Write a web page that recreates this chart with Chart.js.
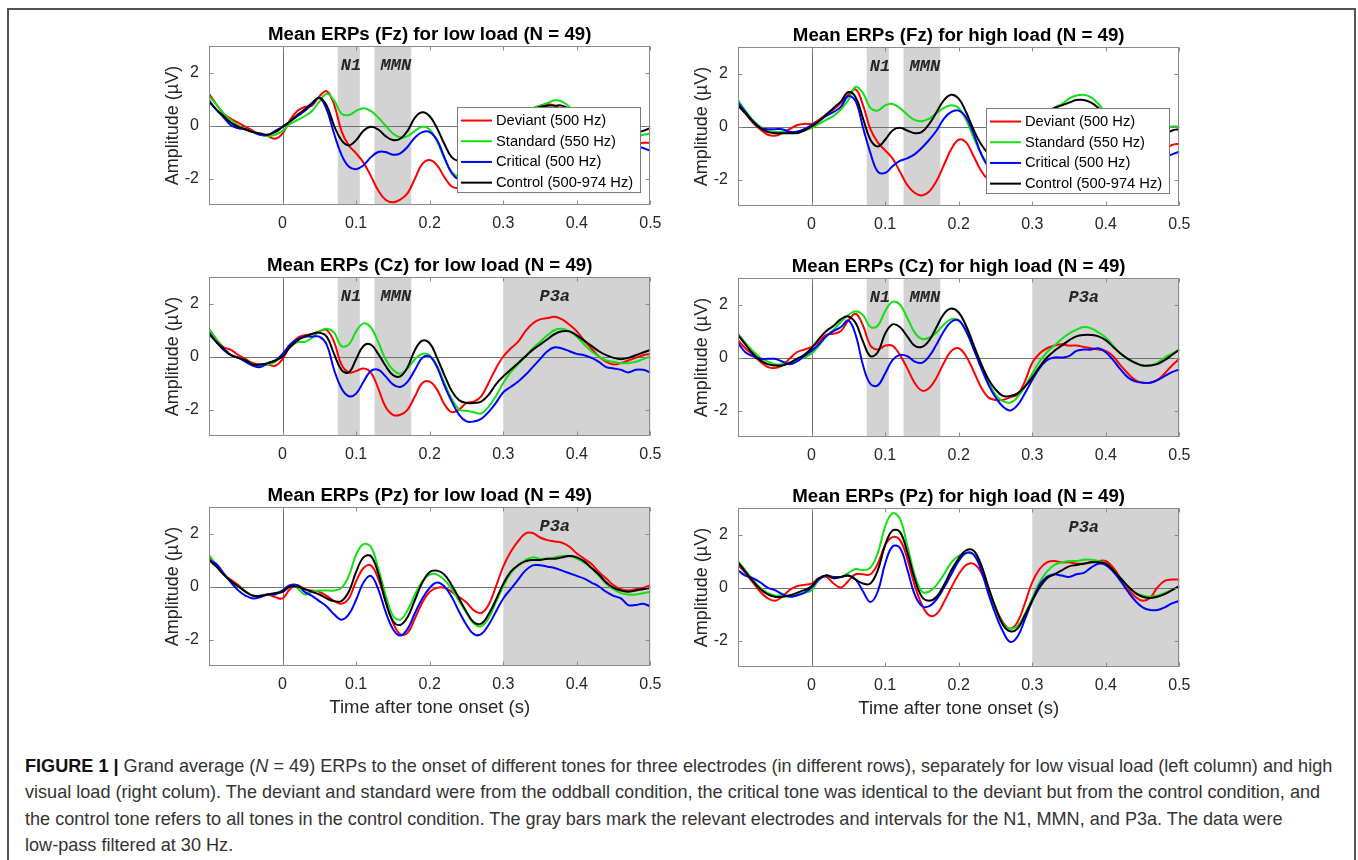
<!DOCTYPE html>
<html><head><meta charset="utf-8">
<script src="https://cdn.jsdelivr.net/npm/chart.js@4.4.1/dist/chart.umd.min.js"></script>
<style>
html,body{margin:0;padding:0;background:#fff;width:1358px;height:860px;overflow:hidden;}
#frame{position:absolute;left:7px;top:8px;width:1349px;height:900px;border:2px solid #555;box-sizing:border-box;}
canvas{position:absolute;}
#caption{position:absolute;left:25px;top:753px;font-family:"Liberation Sans",Arial,sans-serif;font-size:18.1px;line-height:26.3px;color:#333;white-space:nowrap;}
#caption b{color:#111;}
</style></head>
<body>
<div id="frame"></div>
<canvas id="c1" width="520" height="222" style="left:150px;top:18px"></canvas>
<canvas id="c2" width="520" height="222" style="left:679px;top:19px"></canvas>
<canvas id="c3" width="520" height="222" style="left:150px;top:249px"></canvas>
<canvas id="c4" width="520" height="222" style="left:679px;top:250px"></canvas>
<canvas id="c5" width="520" height="245" style="left:150px;top:479px"></canvas>
<canvas id="c6" width="520" height="245" style="left:679px;top:480px"></canvas>
<div id="caption"><b>FIGURE 1 |</b> Grand average (<i>N</i> = 49) ERPs to the onset of different tones for three electrodes (in different rows), separately for low visual load (left column) and high<br>visual load (right colum). The deviant and standard were from the oddball condition, the critical tone was identical to the deviant but from the control condition, and<br>the control tone refers to all tones in the control condition. The gray bars mark the relevant electrodes and intervals for the N1, MMN, and P3a. The data were<br>low-pass filtered at 30 Hz.</div>
<script>
// ---------- data ----------
const timeS = [-0.1,-0.09,-0.08,-0.07,-0.06,-0.05,-0.04,-0.03,-0.02,-0.01,0,
  0.01,0.02,0.03,0.04,0.05,0.06,0.07,0.08,0.09,0.1,
  0.11,0.12,0.13,0.14,0.15,0.16,0.17,0.18,0.19,0.2,
  0.21,0.22,0.23,0.24,0.25,0.26,0.27,0.28,0.29,0.3,
  0.31,0.32,0.33,0.34,0.35,0.36,0.37,0.38,0.39,0.4,
  0.41,0.42,0.43,0.44,0.45,0.46,0.47,0.48,0.49,0.5];
const xTickValues = [0,0.1,0.2,0.3,0.4,0.5];
const yTickValues = [-2,0,2];
const seriesLabels = ['Deviant (500 Hz)','Standard (550 Hz)','Critical (500 Hz)','Control (500-974 Hz)'];
const seriesColors = ['#ff0000','#12e012','#0000ff','#000000'];

// Fz low load
const fzLowDev  = [1.2,0.8,0.45,0.25,0.1,-0.05,-0.2,-0.35,-0.4,-0.5,-0.3, 0.2,0.55,0.7,0.75,1.1,1.3,0.8,-0.2,-0.75,-1.05, -1.4,-1.9,-2.45,-2.8,-2.9,-2.8,-2.55,-2.0,-1.45,-1.3, -1.5,-1.95,-2.3,-2.35,-2.2,-1.9,-1.5,-1.0,-0.6,-0.2, 0.1,0.35,0.5,0.65,0.75,0.8,0.75,0.6,0.35,0.1, -0.15,-0.35,-0.5,-0.6,-0.7,-0.75,-0.75,-0.7,-0.65,-0.65];
const fzLowStd  = [1.1,0.8,0.45,0.2,0.0,-0.15,-0.25,-0.35,-0.4,-0.35,-0.2, 0.05,0.2,0.35,0.55,0.9,1.2,0.95,0.45,0.4,0.55, 0.65,0.55,0.3,0.0,-0.3,-0.45,-0.4,-0.2,-0.05,-0.15, -0.6,-1.25,-1.75,-1.95,-1.9,-1.7,-1.4,-1.0,-0.6,-0.25, 0.05,0.3,0.5,0.65,0.75,0.85,0.95,0.9,0.7,0.4, 0.1,-0.15,-0.3,-0.4,-0.45,-0.5,-0.5,-0.45,-0.35,-0.3];
const fzLowCrit = [0.95,0.6,0.3,0.0,-0.1,-0.15,-0.25,-0.35,-0.35,-0.2,-0.05, 0.15,0.35,0.55,0.8,1.05,0.6,-0.3,-1.1,-1.55,-1.65, -1.5,-1.2,-1.0,-1.0,-1.1,-1.05,-0.8,-0.45,-0.25,-0.25, -0.55,-1.2,-1.8,-2.05,-2.1,-2.0,-1.7,-1.35,-1.0,-0.7, -0.4,-0.15,0.05,0.2,0.3,0.35,0.35,0.25,0.05,-0.2, -0.4,-0.55,-0.65,-0.7,-0.75,-0.8,-0.8,-0.75,-0.85,-0.95];
const fzLowCtrl = [0.9,0.6,0.35,0.1,-0.05,-0.15,-0.25,-0.3,-0.35,-0.25,-0.05, 0.15,0.4,0.6,0.85,1.05,0.75,0.0,-0.55,-0.75,-0.55, -0.2,-0.05,-0.15,-0.4,-0.55,-0.5,-0.2,0.3,0.5,0.35, -0.1,-0.7,-1.2,-1.35,-1.35,-1.2,-0.95,-0.7,-0.4,-0.1, 0.15,0.35,0.5,0.6,0.7,0.75,0.75,0.75,0.6,0.3, 0.05,-0.15,-0.3,-0.4,-0.45,-0.45,-0.4,-0.3,-0.2,-0.1];

// Fz high load
const fzHighDev  = [0.8,0.5,0.15,-0.1,-0.3,-0.35,-0.25,-0.1,0.05,0.1,0.1, 0.25,0.45,0.65,0.9,1.2,1.4,0.8,-0.1,-0.6,-0.9, -1.2,-1.7,-2.2,-2.5,-2.6,-2.45,-2.05,-1.45,-0.85,-0.5, -0.6,-1.1,-1.65,-2.0,-2.1,-2.0,-1.7,-1.3,-0.85,-0.4, 0.0,0.3,0.5,0.6,0.65,0.65,0.6,0.45,0.2,-0.1, -0.4,-0.65,-0.85,-0.95,-1.0,-1.0,-0.95,-0.85,-0.7,-0.65];
const fzHighStd  = [1.0,0.6,0.25,0.0,-0.15,-0.2,-0.2,-0.2,-0.2,-0.15,-0.05, 0.1,0.25,0.4,0.65,1.0,1.5,1.25,0.7,0.6,0.8, 0.85,0.7,0.45,0.25,0.2,0.3,0.5,0.7,0.8,0.7, 0.25,-0.4,-1.0,-1.4,-1.5,-1.35,-1.05,-0.65,-0.25,-0.05, 0.25,0.5,0.7,0.85,1.05,1.17,1.2,1.1,0.85,0.5, 0.2,-0.05,-0.2,-0.3,-0.3,-0.25,-0.2,-0.1,0.0,0.0];
const fzHighCrit = [0.9,0.55,0.2,-0.05,-0.1,-0.1,-0.1,-0.2,-0.2,-0.1,0.05, 0.2,0.4,0.55,0.75,1.15,0.95,-0.05,-1.0,-1.7,-1.75, -1.5,-1.3,-1.2,-1.05,-0.8,-0.5,-0.15,0.3,0.55,0.6, 0.35,-0.25,-1.0,-1.5,-1.65,-1.55,-1.3,-0.95,-0.6,-0.3, 0.0,0.2,0.35,0.45,0.5,0.5,0.45,0.3,0.05,-0.25, -0.55,-0.8,-1.0,-1.1,-1.15,-1.2,-1.2,-1.15,-1.05,-0.95];
const fzHighCtrl = [0.8,0.5,0.2,-0.05,-0.2,-0.25,-0.25,-0.25,-0.25,-0.15,0.0, 0.2,0.45,0.7,0.95,1.3,1.1,0.3,-0.5,-0.75,-0.5, -0.15,-0.05,-0.15,-0.25,-0.2,0.1,0.55,1.0,1.2,1.05, 0.55,-0.1,-0.65,-1.0,-1.1,-1.0,-0.75,-0.45,-0.1,0.2, 0.45,0.6,0.7,0.8,0.9,1.0,1.0,0.9,0.7,0.45, 0.15,-0.1,-0.3,-0.4,-0.45,-0.45,-0.4,-0.3,-0.15,-0.1];

// Cz low load
const czLowDev  = [1.0,0.65,0.35,0.25,0.05,-0.1,-0.25,-0.3,-0.3,-0.35,-0.1, 0.4,0.7,0.8,0.85,0.95,1.0,0.55,-0.3,-0.6,-0.55, -0.45,-0.6,-1.2,-1.9,-2.2,-2.2,-2.0,-1.5,-1.0,-0.95, -1.25,-1.8,-2.1,-2.0,-1.75,-1.7,-1.5,-1.0,-0.45,0.0, 0.3,0.55,0.95,1.25,1.4,1.45,1.5,1.4,1.2,0.95, 0.6,0.3,0.0,-0.2,-0.3,-0.25,-0.15,-0.05,0.05,0.1];
const czLowStd  = [1.05,0.65,0.3,0.05,-0.05,-0.15,-0.3,-0.35,-0.3,-0.2,0.05, 0.35,0.55,0.55,0.7,0.95,1.05,0.9,0.4,0.45,0.95, 1.25,1.1,0.55,-0.1,-0.5,-0.65,-0.45,-0.1,0.1,0.05, -0.35,-1.0,-1.6,-2.0,-2.05,-2.1,-2.15,-1.9,-1.5,-1.0, -0.6,-0.3,0.0,0.3,0.55,0.8,1.0,1.05,0.95,0.75, 0.45,0.2,0.0,-0.15,-0.2,-0.25,-0.25,-0.2,-0.1,0.0];
const czLowCrit = [0.9,0.55,0.25,0.05,-0.05,-0.2,-0.35,-0.4,-0.25,-0.15,0.1, 0.45,0.65,0.75,0.75,0.75,0.45,-0.5,-1.2,-1.5,-1.4, -0.95,-0.55,-0.5,-0.75,-1.05,-1.15,-0.95,-0.5,-0.05,0.0, -0.4,-1.1,-1.7,-2.2,-2.45,-2.45,-2.35,-2.1,-1.75,-1.35, -1.15,-0.95,-0.7,-0.4,-0.1,0.2,0.35,0.3,0.2,0.1, 0.05,-0.05,-0.2,-0.4,-0.45,-0.5,-0.6,-0.5,-0.5,-0.6];
const czLowCtrl = [0.85,0.55,0.3,0.05,-0.05,-0.15,-0.3,-0.3,-0.25,-0.15,0.0, 0.35,0.6,0.75,0.85,0.9,0.75,0.1,-0.5,-0.6,-0.1, 0.4,0.45,0.1,-0.35,-0.7,-0.75,-0.4,0.25,0.6,0.5, -0.05,-0.7,-1.3,-1.65,-1.75,-1.75,-1.7,-1.45,-1.05,-0.75, -0.5,-0.25,0.0,0.25,0.45,0.65,0.85,0.95,0.95,0.8, 0.6,0.4,0.2,0.05,-0.05,-0.1,-0.05,0.05,0.15,0.25];

// Cz high load
const czHighDev  = [0.65,0.35,0.1,-0.15,-0.35,-0.4,-0.3,-0.05,0.2,0.3,0.4, 0.6,0.85,0.9,1.0,1.4,1.65,1.2,0.45,0.3,0.45, 0.45,0.1,-0.4,-0.95,-1.25,-1.15,-0.75,-0.2,0.25,0.35, 0.05,-0.5,-1.1,-1.5,-1.6,-1.6,-1.5,-1.4,-0.9,-0.2, 0.15,0.35,0.45,0.5,0.45,0.45,0.4,0.35,0.3,0.25, 0.05,-0.3,-0.6,-0.85,-0.95,-0.95,-0.85,-0.6,-0.3,-0.05];
const czHighStd  = [0.9,0.55,0.25,0.0,-0.15,-0.25,-0.25,-0.2,-0.1,0.0,0.15, 0.45,0.8,1.05,1.35,1.6,1.75,1.6,1.15,1.2,1.75, 2.1,2.0,1.5,0.95,0.7,0.75,0.95,1.25,1.45,1.4, 1.0,0.35,-0.3,-0.9,-1.4,-1.65,-1.7,-1.5,-1.1,-0.6, -0.15,0.2,0.45,0.7,0.9,1.05,1.15,1.1,0.95,0.75, 0.45,0.15,-0.05,-0.2,-0.3,-0.3,-0.2,0.0,0.15,0.3];
const czHighCrit = [0.55,0.2,0.05,-0.05,-0.05,-0.05,-0.15,-0.25,-0.15,0.05,0.25, 0.5,0.8,1.0,1.15,1.4,0.85,-0.3,-1.0,-1.05,-0.6, -0.1,0.1,0.05,-0.15,-0.2,0.05,0.5,1.0,1.35,1.4, 1.0,0.35,-0.35,-1.0,-1.5,-1.85,-2.0,-1.8,-1.35,-0.85, -0.4,-0.1,0.0,0.0,0.05,0.25,0.3,0.3,0.35,0.2, -0.1,-0.45,-0.75,-0.9,-0.95,-0.95,-0.85,-0.7,-0.55,-0.45];
const czHighCtrl = [0.85,0.5,0.15,-0.1,-0.25,-0.3,-0.3,-0.2,-0.05,0.1,0.35, 0.7,1.0,1.2,1.45,1.55,1.3,0.6,0.05,0.2,0.9, 1.25,1.15,0.8,0.45,0.4,0.65,1.15,1.65,1.85,1.7, 1.2,0.5,-0.2,-0.8,-1.2,-1.45,-1.45,-1.35,-1.1,-0.75, -0.35,0.0,0.25,0.45,0.65,0.8,0.85,0.85,0.8,0.65, 0.4,0.15,-0.05,-0.2,-0.3,-0.3,-0.25,-0.1,0.1,0.3];

// Pz low load
const pzLowDev  = [1.1,0.8,0.45,0.25,0.05,-0.2,-0.35,-0.35,-0.3,-0.4,-0.45, -0.1,0.05,-0.1,-0.15,-0.2,-0.35,-0.55,-0.65,-0.45,0.2, 0.7,0.8,0.3,-0.55,-1.35,-1.8,-1.75,-1.2,-0.6,-0.2, -0.05,-0.05,-0.2,-0.4,-0.6,-0.9,-1.0,-0.7,0.0,0.75, 1.3,1.7,2.0,2.02,1.85,1.75,1.7,1.65,1.5,1.25, 1.05,0.85,0.55,0.3,0.05,-0.1,-0.15,-0.1,-0.05,0.05];
const pzLowStd  = [1.2,0.8,0.45,0.2,0.0,-0.2,-0.35,-0.35,-0.3,-0.25,-0.15, 0.05,-0.05,-0.3,-0.2,-0.15,-0.15,-0.15,-0.05,0.4,1.2, 1.6,1.5,0.7,-0.3,-1.1,-1.25,-0.9,-0.3,0.2,0.45, 0.45,0.25,-0.1,-0.55,-1.0,-1.4,-1.5,-1.2,-0.6,0.0, 0.5,0.8,1.0,1.1,1.05,1.05,1.1,1.15,1.15,1.05, 0.9,0.7,0.4,0.1,-0.1,-0.25,-0.3,-0.3,-0.25,-0.2];
const pzLowCrit = [1.0,0.85,0.5,0.15,-0.15,-0.35,-0.45,-0.4,-0.3,-0.3,-0.15, 0.05,0.05,-0.2,-0.35,-0.55,-0.75,-1.05,-1.25,-1.05,-0.5, 0.15,0.4,-0.1,-0.95,-1.6,-1.85,-1.6,-1.0,-0.45,-0.05, 0.15,0.0,-0.4,-0.95,-1.45,-1.8,-1.8,-1.45,-0.95,-0.45, -0.1,0.25,0.6,0.8,0.8,0.75,0.7,0.6,0.5,0.4, 0.3,0.15,0.0,-0.2,-0.35,-0.45,-0.7,-0.7,-0.65,-0.75];
const pzLowCtrl = [1.0,0.75,0.45,0.2,0.0,-0.2,-0.35,-0.35,-0.3,-0.25,-0.2, 0.0,0.0,-0.1,-0.2,-0.3,-0.45,-0.55,-0.55,-0.2,0.55, 1.1,1.15,0.5,-0.55,-1.3,-1.45,-1.15,-0.5,0.15,0.55, 0.6,0.45,0.05,-0.45,-0.95,-1.35,-1.4,-1.05,-0.5,0.1, 0.55,0.8,0.95,1.0,1.0,1.05,1.05,1.1,1.15,1.1, 0.95,0.7,0.45,0.15,-0.05,-0.15,-0.2,-0.15,-0.1,-0.05];

// Pz high load
const pzHighDev  = [0.85,0.55,0.2,-0.15,-0.4,-0.5,-0.35,-0.1,0.05,0.1,0.15, 0.35,0.4,0.15,0.0,0.25,0.5,0.5,0.5,0.9,1.6, 1.9,1.8,1.1,0.1,-0.65,-1.05,-1.0,-0.55,0.0,0.5, 0.85,0.9,0.6,-0.05,-0.75,-1.3,-1.55,-1.3,-0.6,0.2, 0.7,0.95,1.0,0.95,0.95,0.9,0.9,0.95,1.0,1.0, 0.75,0.35,-0.05,-0.35,-0.5,-0.4,0.0,0.25,0.3,0.3];
const pzHighStd  = [1.0,0.65,0.3,0.0,-0.2,-0.3,-0.3,-0.3,-0.25,-0.2,-0.1, 0.3,0.45,0.35,0.4,0.55,0.7,0.65,0.75,1.3,2.3, 2.8,2.6,1.6,0.5,-0.15,-0.15,0.1,0.5,0.95,1.2, 1.3,1.25,0.8,0.0,-0.8,-1.35,-1.55,-1.45,-1.0,-0.4, 0.2,0.6,0.85,0.95,1.0,1.0,1.05,1.05,1.0,0.9, 0.65,0.35,0.05,-0.2,-0.3,-0.35,-0.3,-0.2,-0.1,0.05];
const pzHighCrit = [0.65,0.45,0.35,0.2,0.0,-0.1,-0.25,-0.35,-0.3,-0.2,0.0, 0.3,0.45,0.4,0.4,0.45,0.3,-0.15,-0.55,-0.15,0.9, 1.55,1.5,0.7,-0.25,-0.7,-0.7,-0.45,0.0,0.5,1.0, 1.3,1.25,0.7,-0.2,-1.0,-1.65,-2.05,-1.85,-1.2,-0.5, 0.1,0.4,0.5,0.45,0.4,0.5,0.55,0.75,0.9,0.85, 0.6,0.25,-0.15,-0.5,-0.75,-0.85,-0.85,-0.75,-0.6,-0.5];
const pzHighCtrl = [0.95,0.6,0.25,-0.05,-0.25,-0.35,-0.35,-0.3,-0.2,-0.1,0.05, 0.35,0.45,0.35,0.4,0.45,0.3,0.15,0.15,0.65,1.6, 2.15,2.1,1.35,0.35,-0.35,-0.5,-0.35,0.1,0.65,1.1, 1.4,1.4,0.9,0.05,-0.75,-1.4,-1.65,-1.55,-1.05,-0.5, 0.0,0.35,0.5,0.65,0.8,0.85,0.9,0.95,0.95,0.9, 0.65,0.35,0.05,-0.2,-0.35,-0.4,-0.35,-0.25,-0.1,0.05];

// Shaded analysis windows (s) and label times
const winN1  = {label:'N1',  start:0.075, end:0.105, at:0.093};
const winMMN = {label:'MMN', start:0.125, end:0.175, at:0.154};
const winP3a = {label:'P3a', start:0.3,   end:0.5,   at:0.37};

// ---------- drawing ----------
const FONT = '"Liberation Sans", Arial, Helvetica, sans-serif';
const TXT = '#262626';

const decor = {
  id: 'decor',
  beforeDatasetsDraw(chart, args, opts) {
    const {ctx, chartArea: a, scales: {x, y}} = chart;
    ctx.save();
    ctx.fillStyle = '#d3d3d3';
    for (const r of opts.regions) {
      const x0 = x.getPixelForValue(r.start), x1 = x.getPixelForValue(r.end);
      ctx.fillRect(x0, a.top, x1 - x0, a.bottom - a.top);
    }
    ctx.font = 'italic bold 17px "Liberation Mono", "Courier New", monospace';
    ctx.fillStyle = TXT; ctx.textAlign = 'center'; ctx.textBaseline = 'middle';
    for (const r of opts.regions) ctx.fillText(r.label, x.getPixelForValue(r.at), y.getPixelForValue(2.25));
    ctx.strokeStyle = '#707070'; ctx.lineWidth = 1;
    const yz = Math.round(y.getPixelForValue(0)) + 0.5;
    const xz = Math.round(x.getPixelForValue(0)) + 0.5;
    ctx.beginPath();
    ctx.moveTo(a.left, yz); ctx.lineTo(a.right, yz);
    ctx.moveTo(xz, a.top); ctx.lineTo(xz, a.bottom);
    ctx.stroke();
    ctx.restore();
  },
  afterDraw(chart, args, opts) {
    const {ctx, chartArea: a, scales: {x, y}} = chart;
    ctx.save();
    ctx.strokeStyle = '#8a8a8a'; ctx.lineWidth = 1;
    const L = Math.round(a.left) + 0.5, R = Math.round(a.right) - 0.5;
    const T = Math.round(a.top) + 0.5, B = Math.round(a.bottom) - 0.5;
    ctx.strokeRect(L, T, R - L, B - T);
    ctx.beginPath();
    for (const v of xTickValues) {
      const px = Math.round(x.getPixelForValue(v)) + 0.5;
      ctx.moveTo(px, B); ctx.lineTo(px, B - 4);
      ctx.moveTo(px, T); ctx.lineTo(px, T + 4);
    }
    for (const v of yTickValues) {
      const py = Math.round(y.getPixelForValue(v)) + 0.5;
      ctx.moveTo(L, py); ctx.lineTo(L + 4, py);
      ctx.moveTo(R, py); ctx.lineTo(R - 4, py);
    }
    ctx.stroke();
    if (opts.legend) {
      const bx = a.left + 248, by = a.top + 61, bw = 184, bh = 86;
      ctx.fillStyle = '#fff'; ctx.fillRect(bx, by, bw, bh);
      ctx.strokeStyle = '#7a7a7a'; ctx.strokeRect(bx + 0.5, by + 0.5, bw - 1, bh - 1);
      ctx.font = '14.7px ' + FONT; ctx.textAlign = 'left'; ctx.textBaseline = 'middle';
      chart.data.datasets.forEach((d, i) => {
        const yy = by + 13.5 + i * 20.7;
        ctx.strokeStyle = d.borderColor; ctx.lineWidth = 2;
        ctx.beginPath(); ctx.moveTo(bx + 4, yy); ctx.lineTo(bx + 35, yy); ctx.stroke();
        ctx.fillStyle = '#000'; ctx.fillText(d.label, bx + 39, yy + 0.5);
      });
    }
    ctx.restore();
  }
};

function makeChart(id, series, title, regions, legend, xTitle) {
  const cv = document.getElementById(id);
  const H = cv.height;
  new Chart(cv, {
    type: 'line',
    data: {
      datasets: series.map((s, i) => ({
        label: seriesLabels[i],
        data: timeS.map((t, k) => ({x: t, y: s[k]})),
        borderColor: seriesColors[i],
        borderWidth: 2,
        pointRadius: 0,
        tension: 0.4,
        fill: false,
        order: 3 - i
      }))
    },
    options: {
      responsive: false, animation: false, devicePixelRatio: 1,
      layout: {padding: {top: 0, left: 0, right: 17, bottom: 0}},
      plugins: {
        legend: {display: false},
        tooltip: {enabled: false},
        title: {display: true, text: title, fullSize: false, color: '#000',
          font: {family: FONT, size: 18.7, weight: 'bold', lineHeight: 1.2},
          padding: {top: 5.6, bottom: 0}},
        decor: {regions: regions, legend: legend}
      },
      scales: {
        x: {
          type: 'linear', min: -0.1, max: 0.5,
          afterBuildTicks: s => { s.ticks = xTickValues.map(v => ({value: v})); },
          afterFit: s => { s.height = H - 28 - 159; },
          grid: {display: false, drawTicks: false},
          border: {display: false},
          ticks: {color: TXT, font: {family: FONT, size: 16}, padding: 8.5, maxRotation: 0,
            callback: v => String(v)},
          title: {display: !!xTitle, text: xTitle || '', color: TXT,
            font: {family: FONT, size: 18.5}, padding: {top: 0, bottom: 4.9}}
        },
        y: {
          type: 'linear', min: -3, max: 3,
          afterBuildTicks: s => { s.ticks = yTickValues.map(v => ({value: v})); },
          afterFit: s => { s.width = 59; },
          grid: {display: false, drawTicks: false},
          border: {display: false},
          ticks: {color: TXT, font: {family: FONT, size: 16}, padding: 10},
          title: {display: true, text: 'Amplitude (µV)', color: TXT,
            font: {family: FONT, size: 18}, padding: {top: 12.2, bottom: 0}}
        }
      }
    },
    plugins: [decor]
  });
}

makeChart('c1', [fzLowDev, fzLowStd, fzLowCrit, fzLowCtrl], 'Mean ERPs (Fz) for low load (N = 49)', [winN1, winMMN], true, null);
makeChart('c2', [fzHighDev, fzHighStd, fzHighCrit, fzHighCtrl], 'Mean ERPs (Fz) for high load (N = 49)', [winN1, winMMN], true, null);
makeChart('c3', [czLowDev, czLowStd, czLowCrit, czLowCtrl], 'Mean ERPs (Cz) for low load (N = 49)', [winN1, winMMN, winP3a], false, null);
makeChart('c4', [czHighDev, czHighStd, czHighCrit, czHighCtrl], 'Mean ERPs (Cz) for high load (N = 49)', [winN1, winMMN, winP3a], false, null);
makeChart('c5', [pzLowDev, pzLowStd, pzLowCrit, pzLowCtrl], 'Mean ERPs (Pz) for low load (N = 49)', [winP3a], false, 'Time after tone onset (s)');
makeChart('c6', [pzHighDev, pzHighStd, pzHighCrit, pzHighCtrl], 'Mean ERPs (Pz) for high load (N = 49)', [winP3a], false, 'Time after tone onset (s)');
</script>
</body></html>
